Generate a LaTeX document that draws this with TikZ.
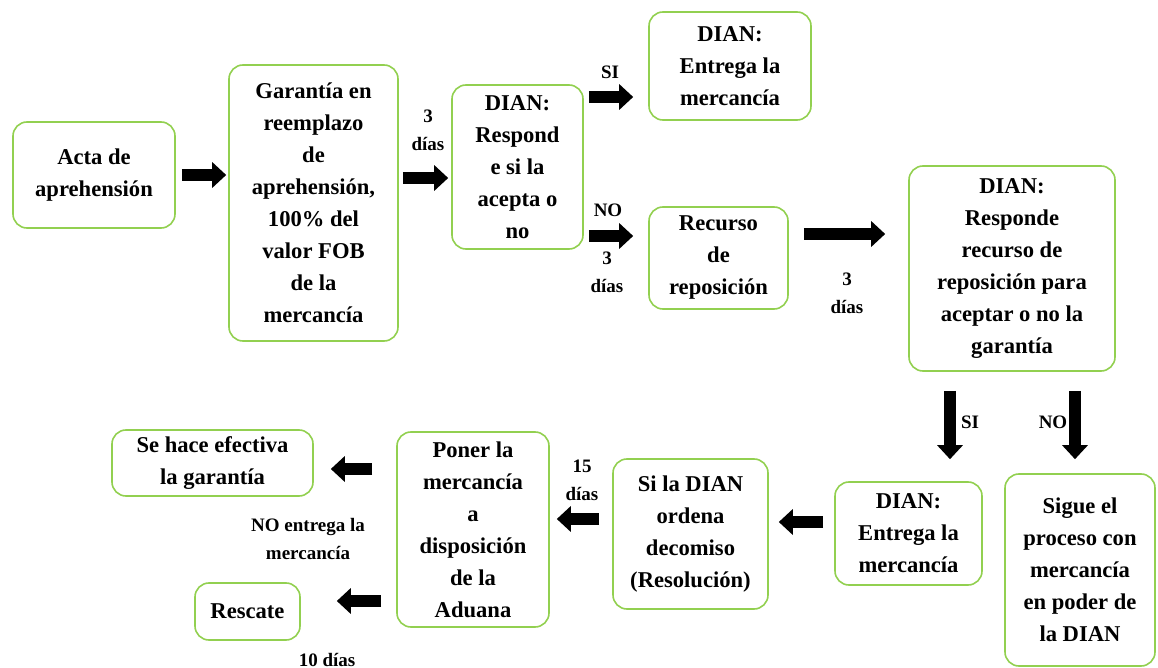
\documentclass[tikz,border=0pt]{standalone}
\usepackage{fontspec}
\setmainfont{LiberationSerif}[Extension=.ttf, UprightFont=*-Regular, BoldFont=*-Bold]
\usetikzlibrary{arrows.meta}
\definecolor{boxgreen}{RGB}{146,208,80}
\tikzset{
  box/.style={draw=boxgreen, line width=0.8pt, rounded corners=7pt, align=center, inner sep=0pt,
    font=\fontsize{11.3}{16}\selectfont\bfseries},
  lbl/.style={align=center, inner sep=0pt, font=\fontsize{9.5}{14}\selectfont\bfseries},
  bigarrow/.style={line width=6pt, -{Triangle[length=7pt,width=12.5pt]}}
}
\begin{document}
\begin{tikzpicture}[x=0.5pt,y=-0.5pt]
\useasboundingbox (0,0) rectangle (1158,668);

\node[box, minimum width=81pt, minimum height=53pt] (acta) at (94,175) {Acta de\\aprehensión};
\node[box, minimum width=84.5pt, minimum height=138pt] (garantia) at (313.5,203) {Garantía en\\reemplazo\\de\\aprehensión,\\100\% del\\valor FOB\\de la\\mercancía};
\node[box, minimum width=65.5pt, minimum height=82pt] (respond) at (517.5,167) {DIAN:\\Respond\\e si la\\acepta o\\no};
\node[box, minimum width=81pt, minimum height=54pt] (entrega1) at (730,66) {DIAN:\\Entrega la\\mercancía};
\node[box, minimum width=69.5pt, minimum height=51pt] (recurso) at (718.5,258) {Recurso\\de\\reposición};
\node[box, minimum width=103pt, minimum height=102.5pt] (responde) at (1012,268.5) {DIAN:\\Responde\\recurso de\\reposición para\\aceptar o no la\\garantía};
\node[box, minimum width=73.5pt, minimum height=51.5pt] (entrega2) at (908.5,533.5) {DIAN:\\Entrega la\\mercancía};
\node[box, minimum width=75pt, minimum height=96pt] (sigue) at (1080,570) {Sigue el\\proceso con\\mercancía\\en poder de\\la DIAN};
\node[box, minimum width=77.5pt, minimum height=75pt] (ordena) at (690.5,534) {Si la DIAN\\ordena\\decomiso\\(Resolución)};
\node[box, minimum width=76pt, minimum height=97.5pt] (poner) at (473,529.5) {Poner la\\mercancía\\a\\disposición\\de la\\Aduana};
\node[box, minimum width=100.5pt, minimum height=33pt] (efectiva) at (212.5,463) {Se hace efectiva\\la garantía};
\node[box, minimum width=52.5pt, minimum height=28.5pt] (rescate) at (247.5,611.5) {Rescate};

\node[lbl] (d1) at (428,130) {3\\días};
\node[lbl] (si1) at (610,72) {SI};
\node[lbl] (no1) at (608,210) {NO};
\node[lbl] (d2) at (607,272) {3\\días};
\node[lbl] (d3) at (847,293) {3\\días};
\node[lbl] (si2) at (970,422) {SI};
\node[lbl] (no2) at (1053,422) {NO};
\node[lbl] (d4) at (582,480) {15\\días};
\node[lbl] (noentrega) at (308,539) {NO entrega la\\mercancía};
\node[lbl] (d5) at (327,660) {10 días};

\draw[bigarrow, shorten <=3pt, shorten >=1pt] (acta.east) -- (acta.east -| garantia.west);
\draw[bigarrow, shorten <=2pt, shorten >=1.5pt] ([yshift=-5.5pt]respond.west -| garantia.east) -- ([yshift=-5.5pt]respond.west);
\draw[bigarrow, shorten <=2.5pt, shorten >=7.5pt] ([yshift=-15.5pt]entrega1.west -| respond.east) -- ([yshift=-15.5pt]entrega1.west);
\draw[bigarrow, shorten <=2.5pt, shorten >=7.5pt] ([yshift=11pt]recurso.west -| respond.east) -- ([yshift=11pt]recurso.west);
\draw[bigarrow, shorten <=7.5pt, shorten >=11.5pt] ([yshift=12pt]recurso.east) -- ([yshift=12pt]recurso.east -| responde.west);
\draw[bigarrow, shorten <=9.5pt, shorten >=11pt] ([xshift=-31pt]responde.south) -- ([xshift=-31pt]responde.south |- entrega2.north);
\draw[bigarrow, shorten <=9.5pt, shorten >=7pt] ([xshift=31.5pt]responde.south) -- ([xshift=31.5pt]responde.south |- sigue.north);
\draw[bigarrow, shorten <=5.5pt, shorten >=5pt] ([yshift=5.75pt]entrega2.west) -- ([yshift=5.75pt]entrega2.west -| ordena.east);
\draw[bigarrow, shorten <=6.5pt, shorten >=3.5pt] ([yshift=7.5pt]ordena.west) -- ([yshift=7.5pt]ordena.west -| poner.east);
\draw[bigarrow, shorten <=12pt, shorten >=8.5pt] ([yshift=-3pt]efectiva.east -| poner.west) -- ([yshift=-3pt]efectiva.east);
\draw[bigarrow, shorten <=7.5pt, shorten >=18pt] ([yshift=5.25pt]rescate.east -| poner.west) -- ([yshift=5.25pt]rescate.east);
\end{tikzpicture}
\end{document}
